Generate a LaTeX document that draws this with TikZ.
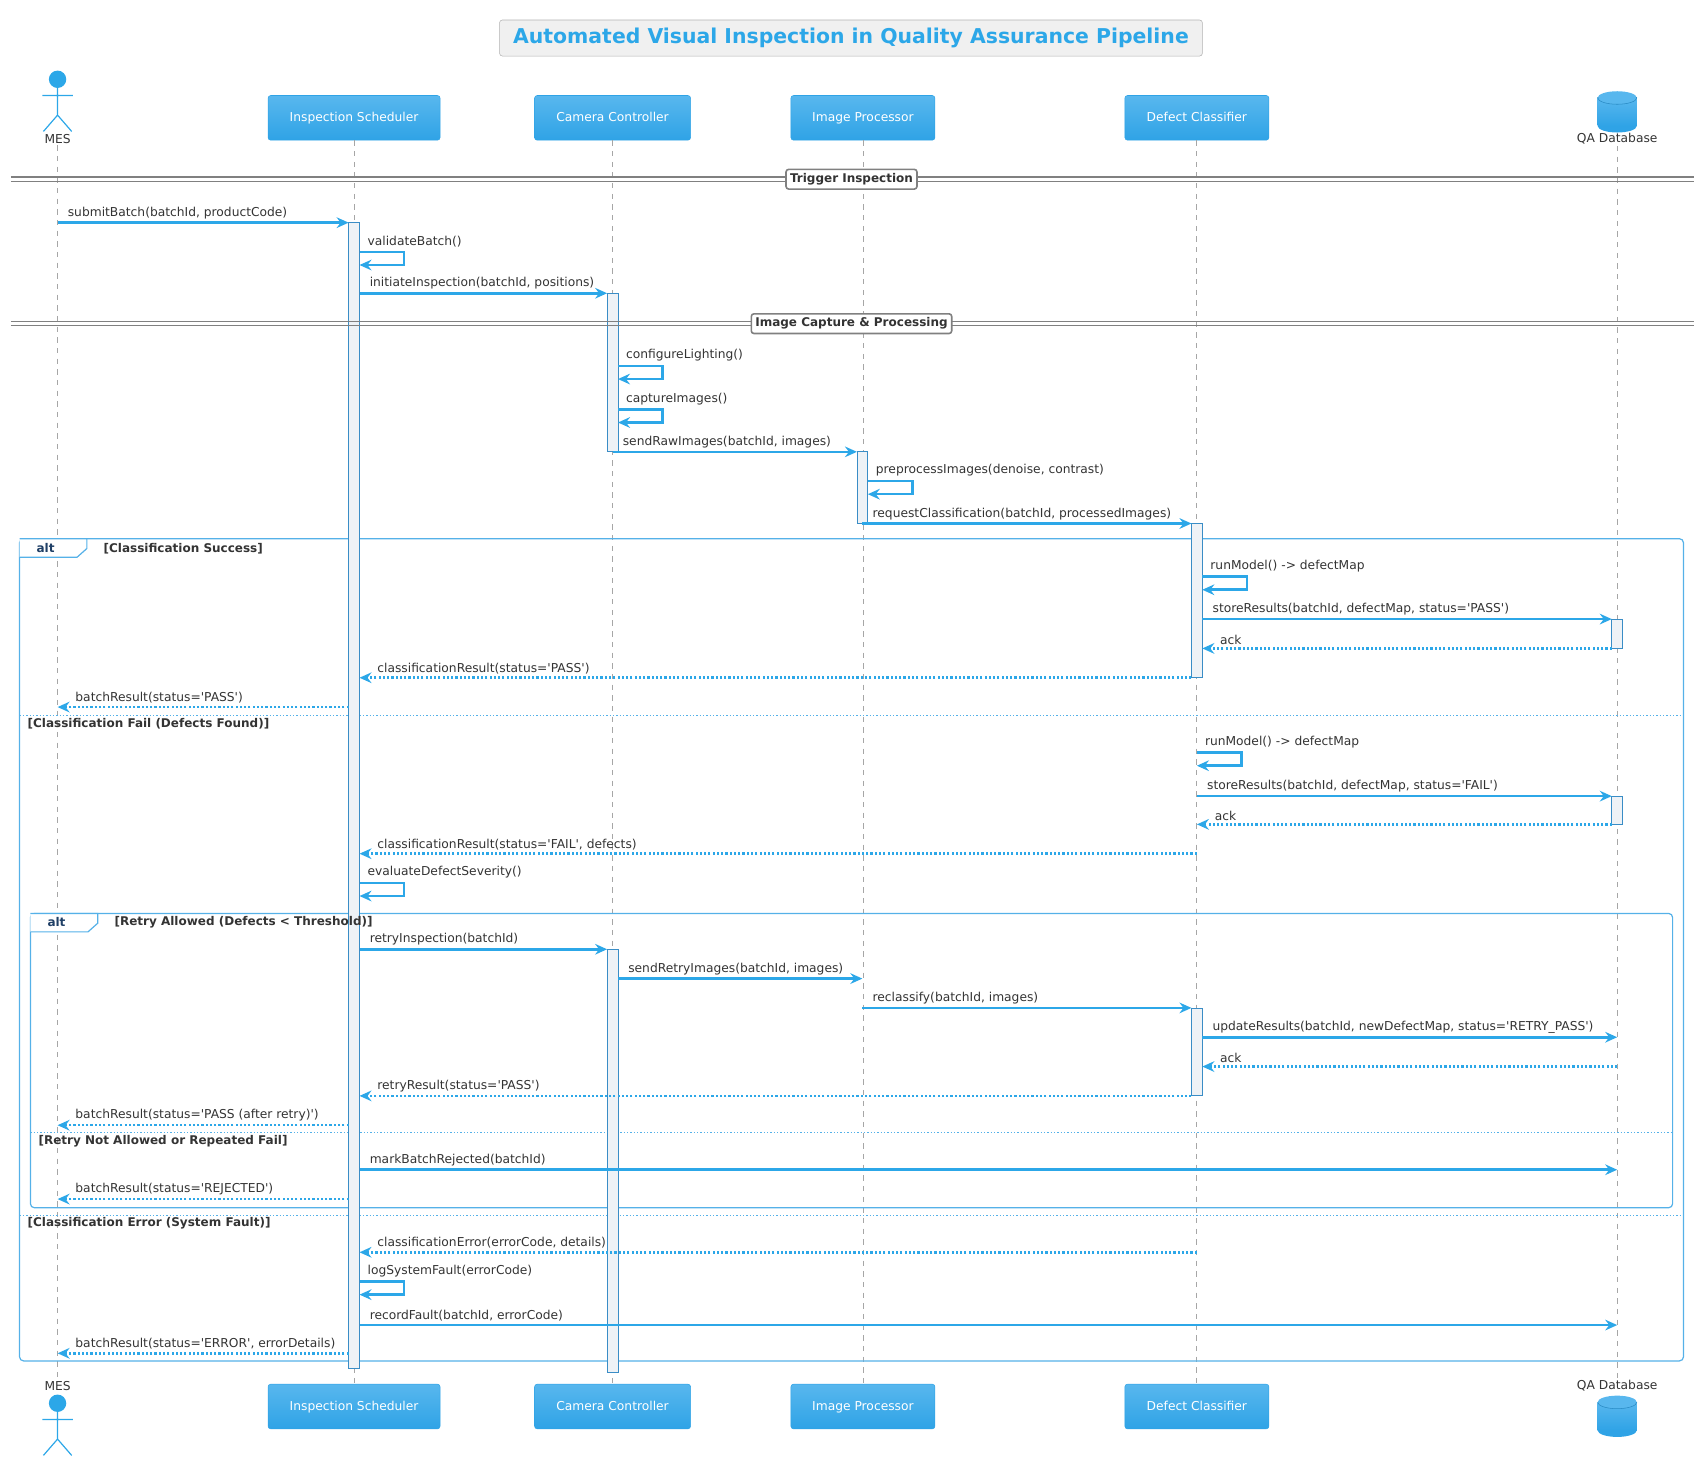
\documentclass[tikz,border=0pt]{standalone}
\usepackage{fontspec}
\setmainfont{DejaVu Sans}[Ligatures=TeXOff]
\usetikzlibrary{arrows.meta,shapes.geometric,positioning,calc}
\definecolor{umlblue}{HTML}{2CA7E8}
\definecolor{boxtop}{HTML}{58B7EE}
\definecolor{boxbot}{HTML}{2FA3E6}
\definecolor{actfill}{HTML}{EEF2F6}
\definecolor{actline}{HTML}{3A8DC6}
\definecolor{framec}{HTML}{55B1E8}
\definecolor{textc}{HTML}{333333}
\definecolor{navy}{HTML}{1F3F66}

\tikzset{
  part/.style={rectangle, rounded corners=2pt, top color=boxtop, bottom color=boxbot,
    draw=boxbot, text=white, font=\fontsize{9.2}{10}\selectfont, minimum height=33.5pt,
    text height=0.75em, text depth=0.22em},
  lifeline/.style={draw=gray!70, dash pattern=on 4pt off 4pt, line width=0.6pt},
  act/.style={draw=actline, fill=actfill, line width=0.6pt},
  call/.style={draw=umlblue, line width=1.9pt, -{Stealth[length=9pt,width=8pt,inset=3pt]}},
  ret/.style={draw=umlblue, line width=1.9pt, dash pattern=on 1.6pt off 1.6pt,
    -{Stealth[length=9pt,width=8pt,inset=3pt]}},
  lbl/.style={font=\fontsize{9.2}{10}\selectfont, text=textc, inner sep=1pt},
  sect/.style={draw=gray, line width=1.2pt, rounded corners=2pt, fill=white,
    font=\bfseries\fontsize{9}{10}\selectfont, text=textc, inner sep=3pt},
  guard/.style={font=\bfseries\fontsize{9}{10}\selectfont, text=textc, inner sep=1pt},
  frm/.style={draw=framec, line width=0.9pt, rounded corners=3pt},
}

% call: from, to, y, label
\newcommand\callmsg[4]{%
  \draw[call] (#1,#3) -- (#2,#3);
  \node[lbl, anchor=south west] at ({#1+8},{#3-2}) {#4};}
% return: from, to, y, label
\newcommand\retmsg[4]{%
  \draw[ret] (#1,#3) -- (#2,#3);
  \node[lbl, anchor=south west] at ({#2+15},{#3-2}) {#4};}
% self call: x, loop top, label
\newcommand\selfmsg[3]{%
  \draw[call] (#1,#2) -- ({#1+41},#2) -- ({#1+41},{#2+12}) -- (#1,{#2+12});
  \node[lbl, anchor=south west] at ({#1+6},{#2-3}) {#3};}
% section divider: y, label
\newcommand\divider[2]{%
  \draw[gray, line width=0.9pt] (10,{#1-2}) -- (1560,{#1-2}) (10,{#1+2}) -- (1560,{#1+2});
  \node[sect] at (784,#1) {#2};}
% actor: x, head y
\newcommand\actor[2]{%
  \fill[umlblue] (#1,#2) circle[radius=8];
  \draw[umlblue, line width=0.9pt] (#1,{#2+8}) -- (#1,{#2+33})
    ({#1-14},{#2+15}) -- ({#1+14},{#2+15})
    ({#1-13},{#2+48}) -- (#1,{#2+33}) -- ({#1+13},{#2+48});}
% database: x, top y
\newcommand\dbase[2]{%
  \fill[boxbot] (#1,{#2+32}) ellipse[x radius=18, y radius=6];
  \fill[top color=boxtop, bottom color=boxbot] ({#1-18},{#2+6}) rectangle ({#1+18},{#2+32});
  \fill[boxtop] (#1,{#2+6}) ellipse[x radius=18, y radius=6];
  \begin{scope}
    \clip ({#1-20},{#2+6}) rectangle ({#1+20},{#2+14});
    \draw[boxbot!85!black, line width=0.4pt] (#1,{#2+6}) ellipse[x radius=18, y radius=6];
  \end{scope}}

\begin{document}
\begin{tikzpicture}[x=0.8145pt, y=-0.8145pt]
\useasboundingbox (0,0) rectangle (1568,1351);

% title
\node[draw=gray!60, fill=gray!12, rounded corners=2pt, minimum width=527pt, minimum height=27pt,
  text=umlblue, font=\bfseries\fontsize{15.3}{17}\selectfont] (title) at (783.5,35)
  {Automated Visual Inspection in Quality Assurance Pipeline};

% participants
\node[part, minimum width=129pt] (sched) at (326,108.5) {Inspection Scheduler};
\node[part, minimum width=117pt] (cam) at (564,108.5) {Camera Controller};
\node[part, minimum width=108pt] (proc) at (794.5,108.5) {Image Processor};
\node[part, minimum width=108pt] (clf) at (1102,108.5) {Defect Classifier};
\node[part, minimum width=129pt] (schedB) at (326,1295) {Inspection Scheduler};
\node[part, minimum width=117pt] (camB) at (564,1295) {Camera Controller};
\node[part, minimum width=108pt] (procB) at (794.5,1295) {Image Processor};
\node[part, minimum width=108pt] (clfB) at (1102,1295) {Defect Classifier};
\actor{53}{73}
\node[lbl] (mes) at (53,128) {MES};
\actor{53}{1292}
\node[lbl] (mesB) at (53,1276) {MES};
\dbase{1489}{84}
\node[lbl] (qa) at (1489,128) {QA Database};
\dbase{1489}{1285}
\node[lbl] (qaB) at (1489,1276) {QA Database};

% lifelines
\draw[lifeline] (mes.south) -- (mesB.north);
\draw[lifeline] (sched.south) -- (schedB.north);
\draw[lifeline] (cam.south) -- (camB.north);
\draw[lifeline] (proc.south) -- (procB.north);
\draw[lifeline] (clf.south) -- (clfB.north);
\draw[lifeline] (qa.south) -- (qaB.north);

% frames
\draw[frm] (18,496) rectangle (1550,1253);
\draw[framec, line width=0.9pt, fill=white] (18,496) -- (80,496) -- (80,505) -- (71,513) -- (18,513);
\draw[framec, line width=0.6pt, dash pattern=on 1pt off 1.5pt] (18,659) -- (1550,659);
\draw[framec, line width=0.6pt, dash pattern=on 1pt off 1.5pt] (18,1119) -- (1550,1119);
\draw[frm] (28,841) rectangle (1540,1112);
\draw[framec, line width=0.9pt, fill=white] (28,841) -- (90,841) -- (90,850) -- (81,858) -- (28,858);
\draw[framec, line width=0.6pt, dash pattern=on 1pt off 1.5pt] (28,1043) -- (1540,1043);

% activations
\draw[act] (321,205) rectangle (331,1260);
\draw[act] (559,270) rectangle (569,416);
\draw[act] (559,874) rectangle (569,1264);
\draw[act] (789,416) rectangle (799,482);
\draw[act] (1097,482) rectangle (1107,624);
\draw[act] (1097,928) rectangle (1107,1009);
\draw[act] (1484,570) rectangle (1494,597);
\draw[act] (1484,733) rectangle (1494,759);

% guards
\node[font=\bfseries\fontsize{9}{10}\selectfont, text=navy] at (42,505) {alt};
\node[guard, anchor=west] at (94,505) {[Classification Success]};
\node[guard, anchor=west] at (24,666) {[Classification Fail (Defects Found)]};
\node[guard, anchor=west] at (24,1126) {[Classification Error (System Fault)]};
\node[font=\bfseries\fontsize{9}{10}\selectfont, text=navy] at (52,849) {alt};
\node[guard, anchor=west] at (104,849) {[Retry Allowed (Defects < Threshold)]};
\node[guard, anchor=west] at (34,1051) {[Retry Not Allowed or Repeated Fail]};

% sections
\divider{165}{Trigger Inspection}
\divider{298}{Image Capture \& Processing}

% messages
\callmsg{53}{321}{205}{submitBatch(batchId, productCode)}
\selfmsg{331}{232}{validateBatch()}
\callmsg{331}{559}{270}{initiateInspection(batchId, positions)}
\selfmsg{569}{337}{configureLighting()}
\selfmsg{569}{377}{captureImages()}
\callmsg{564}{789}{416}{sendRawImages(batchId, images)}
\selfmsg{799}{443}{preprocessImages(denoise, contrast)}
\callmsg{794}{1097}{482}{requestClassification(batchId, processedImages)}

\selfmsg{1107}{531}{runModel() -> defectMap}
\callmsg{1107}{1484}{570}{storeResults(batchId, defectMap, status='PASS')}
\retmsg{1484}{1107}{597}{ack}
\retmsg{1097}{331}{624}{classificationResult(status='PASS')}
\retmsg{321}{53}{651}{batchResult(status='PASS')}

\selfmsg{1102}{693}{runModel() -> defectMap}
\callmsg{1102}{1484}{733}{storeResults(batchId, defectMap, status='FAIL')}
\retmsg{1484}{1102}{759}{ack}
\retmsg{1102}{331}{786}{classificationResult(status='FAIL', defects)}
\selfmsg{331}{813}{evaluateDefectSeverity()}

\callmsg{331}{559}{874}{retryInspection(batchId)}
\callmsg{569}{794}{901}{sendRetryImages(batchId, images)}
\callmsg{794}{1097}{928}{reclassify(batchId, images)}
\callmsg{1107}{1489}{955}{updateResults(batchId, newDefectMap, status='RETRY\_PASS')}
\retmsg{1489}{1107}{982}{ack}
\retmsg{1097}{331}{1009}{retryResult(status='PASS')}
\retmsg{321}{53}{1036}{batchResult(status='PASS (after retry)')}
\callmsg{331}{1489}{1077}{markBatchRejected(batchId)}
\retmsg{321}{53}{1104}{batchResult(status='REJECTED')}

\retmsg{1102}{331}{1153}{classificationError(errorCode, details)}
\selfmsg{331}{1180}{logSystemFault(errorCode)}
\callmsg{331}{1489}{1220}{recordFault(batchId, errorCode)}
\retmsg{321}{53}{1246}{batchResult(status='ERROR', errorDetails)}

\end{tikzpicture}
\end{document}
